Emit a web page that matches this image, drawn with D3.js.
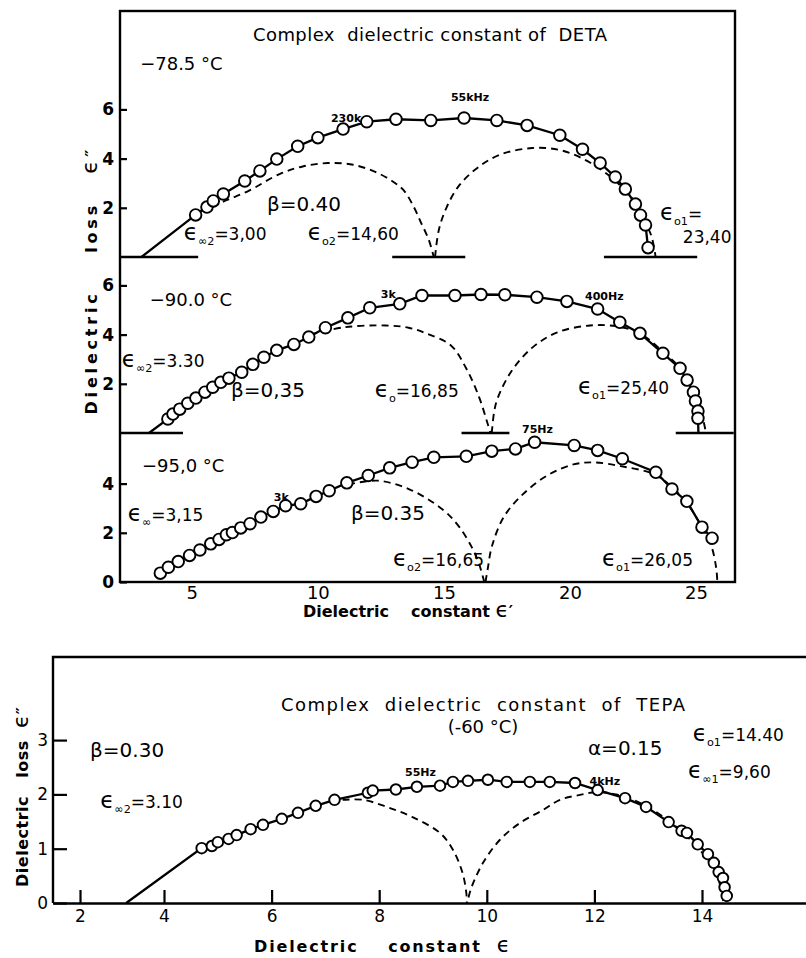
<!DOCTYPE html>
<html>
<head>
<meta charset="utf-8">
<script src="https://cdn.jsdelivr.net/npm/d3@7"></script>
<style>
body { margin: 0; background: #fff; }
svg text { font-family: "DejaVu Sans", "Liberation Sans", sans-serif; fill: #000; white-space: pre; }
</style>
</head>
<body>
<div id="chart"></div>
<script>
// ---- DETA, -78.5 C ----
const deta785Circles = [[5.15,1.71],[5.6,2.03],[5.85,2.28],[6.25,2.56],[7.1,3.09],[7.7,3.5],[8.37,3.98],[9.2,4.5],
  [10.0,4.85],[11.0,5.2],[11.94,5.5],[13.1,5.6],[14.48,5.55],[15.8,5.65],[17.1,5.55],[18.3,5.35],[19.6,4.95],
  [20.5,4.38],[21.2,3.82],[21.8,3.25],[22.2,2.76],[22.6,2.15],[22.8,1.7],[23.0,1.3],[23.1,0.38]];
const deta785Start = [3.00, 0];
const deta785Arc1 = [[5.8,2.02],[6.4,2.32],[7.2,2.66],[8.5,3.38],[9.4,3.68],[10.4,3.82],[11.4,3.75],[12.3,3.45],
  [13.0,3.05],[13.4,2.72],[13.8,2.05],[14.1,1.38],[14.4,0.7],[14.6,0]];
const deta785Arc2 = [[14.65,0],[14.8,1.1],[15.1,2.0],[15.6,2.9],[16.3,3.6],[17.2,4.15],[18.5,4.43],[19.6,4.35],
  [20.6,3.95],[21.5,3.35],[22.2,2.7],[22.7,2.05],[23.0,1.4],[23.25,0.8],[23.4,0]];
const deta785Bars = [[2.15,5.25],[12.95,15.85],[21.35,25.05]];

// ---- DETA, -90.0 C ----
const deta900Circles = [[4.05,0.57],[4.25,0.77],[4.52,0.97],[4.84,1.21],[5.16,1.42],[5.52,1.66],[5.83,1.86],
  [6.15,2.06],[6.47,2.23],[6.98,2.47],[7.42,2.79],[7.86,3.08],[8.37,3.36],[9.05,3.6],[9.64,3.9],[10.3,4.28],
  [11.19,4.68],[12.06,5.09],[13.25,5.25],[14.13,5.59],[15.44,5.59],[16.47,5.63],[17.42,5.62],[18.69,5.52],
  [19.88,5.35],[21.1,5.04],[21.98,4.5],[22.78,4.05],[23.69,3.24],[24.37,2.63],[24.65,2.15],[24.9,1.66],
  [24.98,1.3],[25.08,0.89],[25.08,0.6]];
const deta900Start = [3.30, 0];
const deta900End = [25.1, 0];
const deta900Arc1 = [[9.7,4.0],[11.07,4.3],[12.69,4.37],[13.6,4.28],[14.3,4.05],[15.28,3.56],[15.9,2.6],
  [16.4,1.45],[16.7,0.5],[16.85,0]];
const deta900Arc2 = [[16.9,0],[17.0,0.9],[17.15,1.46],[17.7,2.54],[18.52,3.48],[19.5,4.09],[20.8,4.37],
  [21.9,4.33],[22.78,4.05],[23.7,3.3],[24.4,2.6],[24.9,1.7],[25.2,0.9],[25.4,0]];
const deta900Bars = [[2.15,4.65],[15.7,17.6],[24.2,26.5]];

// ---- DETA, -95.0 C ----
const deta950Circles = [[3.75,0.36],[4.07,0.6],[4.46,0.83],[4.91,1.08],[5.32,1.3],[5.75,1.55],[6.08,1.73],
  [6.37,1.92],[6.61,2.01],[6.94,2.2],[7.31,2.37],[7.74,2.64],[8.23,2.87],[8.72,3.1],[9.32,3.18],[9.93,3.48],
  [10.45,3.71],[11.15,4.03],[12.0,4.33],[12.85,4.64],[13.74,4.87],[14.6,5.07],[15.89,5.11],[16.9,5.32],
  [17.84,5.41],[18.6,5.68],[20.17,5.55],[21.1,5.35],[22.08,5.01],[23.41,4.46],[24.05,3.78],[24.64,3.28],
  [25.24,2.23],[25.64,1.78]];
const deta950Arc1 = [[11.2,3.96],[12.36,4.12],[13.65,3.76],[14.96,2.94],[15.6,2.25],[16.1,1.43],[16.38,0.78],
  [16.55,0.2],[16.6,0]];
const deta950Arc2 = [[16.65,0],[16.75,0.6],[16.9,1.43],[17.38,2.65],[18.2,3.63],[19.17,4.37],[20.14,4.78],
  [20.95,4.86],[22.06,4.7],[23.37,4.37],[24.1,3.8],[24.65,3.2],[25.2,2.3],[25.6,1.5],[25.8,0.6],[25.85,0]];

const detaXTicks = [5, 10, 15, 20, 25];

// ---- TEPA, -60 C ----
const tepaCircles = [[4.70,1.01],[4.89,1.05],[5.0,1.12],[5.2,1.18],[5.35,1.25],[5.61,1.36],[5.84,1.44],
  [6.19,1.55],[6.49,1.66],[6.82,1.79],[7.17,1.9],[7.79,2.03],[7.88,2.07],[8.31,2.09],[8.7,2.14],[9.13,2.16],
  [9.37,2.23],[9.65,2.25],[10.02,2.27],[10.37,2.23],[10.8,2.23],[11.17,2.23],[11.64,2.21],[12.06,2.08],
  [12.57,1.93],[12.96,1.77],[13.38,1.49],[13.62,1.33],[13.72,1.29],[13.92,1.08],[14.11,0.9],[14.22,0.74],
  [14.31,0.57],[14.39,0.46],[14.42,0.29],[14.46,0.13]];
const tepaStart = [3.10, 0];
const tepaArc1 = [[7.32,1.9],[7.7,1.9],[8.14,1.77],[8.62,1.58],[9.13,1.29],[9.37,0.98],[9.55,0.55],[9.62,0.18],[9.63,0]];
const tepaArc2 = [[9.66,0.1],[9.72,0.3],[9.93,0.74],[10.24,1.16],[10.61,1.47],[11.04,1.71],[11.36,1.9],
  [11.73,1.99],[12.04,2.04],[12.4,2.0],[12.9,1.82],[13.4,1.5],[13.8,1.15],[14.1,0.8],[14.3,0.45],[14.4,0]];
const tepaXTicks = [2, 4, 6, 8, 10, 12, 14];
const tepaYTicks = [0, 1, 2, 3];

const EPS = "\u03f5";
const W = 806, H = 958;
const svg = d3.select("#chart").append("svg")
    .attr("width", W)
    .attr("height", H);
svg.append("rect").attr("width", W).attr("height", H).attr("fill", "#fff");

// text with subscript parts: parts = [[str, isSub], ...]
// the epsilon is drawn larger so it reaches cap height like the lettering in the figure
function richText(g, x, y, parts, size, weight) {
    let t = g.append("text")
        .attr("x", x).attr("y", y)
        .attr("font-size", size)
        .attr("font-weight", weight || "normal");
    let shift = 0;
    parts.forEach(p => {
        let s = p[1] ? size * 0.3 : 0;
        let fs = p[1] ? size * 0.66 : (p[0] === EPS ? size * 1.35 : size);
        t.append("tspan")
            .attr("dy", s - shift)
            .attr("font-size", fs)
            .text(p[0]);
        shift = s;
    });
    return t;
}

function drawCurves(g, xs, ys, p) {
    let solid = d3.line().x(d => xs(d[0])).y(d => ys(d[1]));
    let dashed = d3.line().x(d => xs(d[0])).y(d => ys(d[1])).curve(d3.curveCatmullRom);

    g.selectAll(".bar")
        .data(p.bars || [])
        .join("line")
        .attr("class", "bar")
        .attr("x1", d => xs(d[0])).attr("x2", d => xs(d[1]))
        .attr("y1", ys(0)).attr("y2", ys(0))
        .attr("stroke", "#000").attr("stroke-width", 2.4);

    g.selectAll(".arc")
        .data(p.arcs)
        .join("path")
        .attr("class", "arc")
        .attr("d", dashed)
        .attr("fill", "none").attr("stroke", "#000")
        .attr("stroke-width", 1.9).attr("stroke-dasharray", "7,5");

    g.append("path")
        .datum(p.solid)
        .attr("d", solid)
        .attr("fill", "none").attr("stroke", "#000")
        .attr("stroke-width", 2.3);

    g.selectAll("circle")
        .data(p.circles)
        .join("circle")
        .attr("cx", d => xs(d[0])).attr("cy", d => ys(d[1]))
        .attr("r", p.r)
        .attr("fill", "#fff").attr("stroke", "#000").attr("stroke-width", 1.9);
}

// rotated / spaced axis title with a big epsilon at the end
function axisTitle(g, transform, words, eps, len, size) {
    let t = g.append("text")
        .attr("transform", transform)
        .attr("text-anchor", "middle")
        .attr("font-size", size).attr("font-weight", "bold")
        .attr("textLength", len).attr("lengthAdjust", "spacing");
    t.append("tspan").text(words);
    t.append("tspan").attr("font-size", size * 1.35).attr("font-weight", "normal").text(EPS);
    t.append("tspan").text(eps);
    return t;
}

// ================= DETA =================
const deta = {left: 120, right: 735, top: 11, bottom: 582};
const xDeta = d3.scaleLinear().domain([2.15, 26.55]).range([deta.left, deta.right]);
const unit = 24.6;

const panels = [
    {base: 257, ticks: [2, 4, 6], circles: deta785Circles, solid: [deta785Start].concat(deta785Circles),
     arcs: [deta785Arc1, deta785Arc2], bars: deta785Bars,
     notes: [
        {x: 2.95, y: 7.6, size: 18, parts: [["\u221278.5 \u00b0C"]]},
        {x: 7.98, y: 1.85, size: 20, parts: [["\u03b2=0.40"]]},
        {x: 4.68, y: 0.7, size: 17, parts: [[EPS], ["\u221e2", 1], ["=3,00"]]},
        {x: 9.6, y: 0.7, size: 17, parts: [[EPS], ["o2", 1], ["=14,60"]]},
        {x: 23.57, y: 1.52, size: 17, parts: [[EPS], ["o1", 1], ["="]]},
        {x: 24.48, y: 0.55, size: 17, parts: [["23,40"]]},
        {x: 10.52, y: 5.49, size: 11, bold: true, parts: [["230k"]]},
        {x: 15.28, y: 6.34, size: 11, bold: true, parts: [["55kHz"]]}
     ]},
    {base: 433, ticks: [2, 4, 6], circles: deta900Circles,
     solid: [deta900Start].concat(deta900Circles, [deta900End]),
     arcs: [deta900Arc1, deta900Arc2], bars: deta900Bars,
     notes: [
        {x: 3.33, y: 5.16, size: 18, parts: [["\u221290.0 \u00b0C"]]},
        {x: 2.22, y: 2.7, size: 17, parts: [[EPS], ["\u221e2", 1], ["=3.30"]]},
        {x: 6.55, y: 1.45, size: 20, parts: [["\u03b2=0,35"]]},
        {x: 12.26, y: 1.45, size: 17, parts: [[EPS], ["o", 1], ["=16,85"]]},
        {x: 20.32, y: 1.57, size: 17, parts: [[EPS], ["o1", 1], ["=25,40"]]},
        {x: 12.5, y: 5.48, size: 11, bold: true, parts: [["3k"]]},
        {x: 20.6, y: 5.4, size: 11, bold: true, parts: [["400Hz"]]}
     ]},
    {base: 582, ticks: [0, 2, 4], circles: deta950Circles, solid: deta950Circles,
     arcs: [deta950Arc1, deta950Arc2], bars: [],
     notes: [
        {x: 3.02, y: 4.49, size: 18, parts: [["\u221295,0 \u00b0C"]]},
        {x: 2.46, y: 2.49, size: 17, parts: [[EPS], ["\u221e", 1], ["=3,15"]]},
        {x: 11.31, y: 2.53, size: 20, parts: [["\u03b2=0.35"]]},
        {x: 12.98, y: 0.65, size: 17, parts: [[EPS], ["o2", 1], ["=16,65"]]},
        {x: 21.27, y: 0.65, size: 17, parts: [[EPS], ["o1", 1], ["=26,05"]]},
        {x: 8.25, y: 3.31, size: 11, bold: true, parts: [["3k"]]},
        {x: 18.1, y: 6.04, size: 11, bold: true, parts: [["75Hz"]]}
     ]}
];

const gDeta = svg.append("g");

panels.forEach(p => {
    let ys = d3.scaleLinear().domain([0, 6]).range([p.base, p.base - 6 * unit]);
    let g = gDeta.append("g");
    drawCurves(g, xDeta, ys, Object.assign({r: 5.8}, p));

    let ax = g.append("g")
        .attr("transform", "translate(" + deta.left + ",0)")
        .call(d3.axisLeft(ys).tickValues(p.ticks).tickSize(-7).tickPadding(6).tickFormat(d3.format("d")));
    ax.select(".domain").remove();
    ax.selectAll("line").attr("stroke-width", 2.2);
    ax.selectAll("text").attr("font-size", 17).attr("font-weight", "bold")
        .attr("font-family", "DejaVu Sans");

    p.notes.forEach(n => {
        richText(g, xDeta(n.x), ys(n.y), n.parts, n.size, n.bold ? "bold" : "normal");
    });
});

gDeta.append("rect")
    .attr("x", deta.left).attr("y", deta.top)
    .attr("width", deta.right - deta.left).attr("height", deta.bottom - deta.top)
    .attr("fill", "none").attr("stroke", "#000").attr("stroke-width", 2.4);

let detaAxis = gDeta.append("g")
    .attr("transform", "translate(0," + deta.bottom + ")")
    .call(d3.axisBottom(xDeta).tickValues(detaXTicks).tickSize(0).tickPadding(4));
detaAxis.select(".domain").remove();
detaAxis.selectAll("text").attr("font-size", 18).attr("font-family", "DejaVu Sans");

gDeta.append("text")
    .attr("x", 430).attr("y", 41)
    .attr("text-anchor", "middle").attr("font-size", 18)
    .attr("textLength", 354).attr("lengthAdjust", "spacing")
    .text("Complex  dielectric constant of  DETA");

axisTitle(gDeta, "translate(97,282) rotate(-90)", "Dielectric    loss   ", "\u2033", 265, 16);
axisTitle(gDeta, "translate(408,617)", "Dielectric    constant ", "\u2032", 210, 16);

// ================= TEPA =================
const tepa = {left: 53, right: 806, top: 657, bottom: 903};
const xTepa = d3.scaleLinear().domain([1.4, 2, 4, 16]).range([tepa.left, 80, 164, 809.6]);
const yTepa = d3.scaleLinear().domain([0, 4.53]).range([tepa.bottom, tepa.top]);
const gTepa = svg.append("g");

drawCurves(gTepa, xTepa, yTepa, {circles: tepaCircles, solid: [tepaStart].concat(tepaCircles),
    arcs: [tepaArc1, tepaArc2], r: 5.3});

let tx = gTepa.append("g")
    .attr("transform", "translate(0," + tepa.bottom + ")")
    .call(d3.axisBottom(xTepa).tickValues(tepaXTicks).tickSize(-13).tickPadding(7).tickSizeOuter(0));
tx.select(".domain").attr("stroke-width", 2.4);
tx.selectAll(".tick line").attr("stroke-width", 2.2);
tx.selectAll("text").attr("font-size", 17).attr("font-family", "DejaVu Sans");

let ty = gTepa.append("g")
    .attr("transform", "translate(" + tepa.left + ",0)")
    .call(d3.axisLeft(yTepa).tickValues(tepaYTicks).tickSize(-14).tickPadding(5).tickFormat(d3.format("d")));
ty.select(".domain").remove();
ty.selectAll(".tick line").attr("stroke-width", 2.2);
ty.selectAll("text").attr("font-size", 17).attr("font-family", "DejaVu Sans");

// frame: top and left only, chart is cut at the right
gTepa.append("path")
    .attr("d", d3.line()([[tepa.right, tepa.top], [tepa.left, tepa.top], [tepa.left, tepa.bottom]]))
    .attr("fill", "none").attr("stroke", "#000").attr("stroke-width", 2.4);

const tepaNotes = [
    {x: 2.24, y: 2.69, size: 20, parts: [["\u03b2=0.30"]]},
    {x: 2.48, y: 1.75, size: 17, parts: [[EPS], ["\u221e2", 1], ["=3.10"]]},
    {x: 11.88, y: 2.73, size: 20, parts: [["\u03b1=0.15"]]},
    {x: 13.83, y: 2.98, size: 17, parts: [[EPS], ["o1", 1], ["=14.40"]]},
    {x: 13.74, y: 2.3, size: 17, parts: [[EPS], ["\u221e1", 1], ["=9,60"]]},
    {x: 8.48, y: 2.34, size: 11, bold: true, parts: [["55Hz"]]},
    {x: 11.91, y: 2.17, size: 11, bold: true, parts: [["4kHz"]]}
];
tepaNotes.forEach(n => {
    richText(gTepa, xTepa(n.x), yTepa(n.y), n.parts, n.size, n.bold ? "bold" : "normal");
});

gTepa.append("text")
    .attr("x", 483).attr("y", 711)
    .attr("text-anchor", "middle").attr("font-size", 18)
    .attr("textLength", 404).attr("lengthAdjust", "spacing")
    .text("Complex  dielectric  constant  of  TEPA");
gTepa.append("text")
    .attr("x", 483).attr("y", 733)
    .attr("text-anchor", "middle").attr("font-size", 18)
    .text("(-60 \u00b0C)");

axisTitle(gTepa, "translate(28,797) rotate(-90)", "Dielectric   loss  ", "\u2033", 180, 16);
axisTitle(gTepa, "translate(382,952)", "Dielectric    constant  ", "", 256, 16);
</script>
</body>
</html>
